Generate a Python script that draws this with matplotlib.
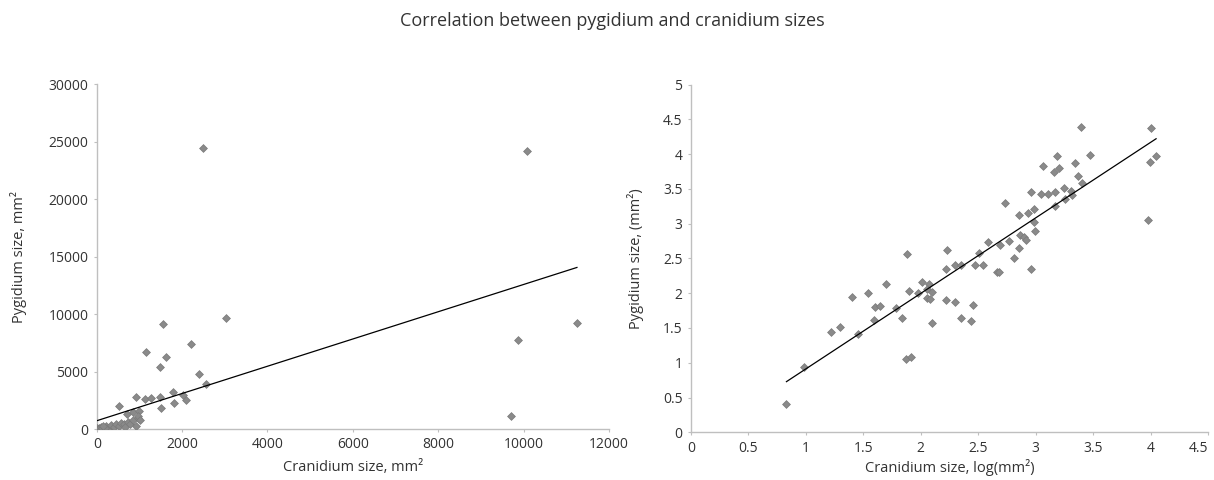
import numpy as np
import matplotlib
matplotlib.use("Agg")
import matplotlib.pyplot as plt

plt.rcParams['font.family'] = ['Open Sans', 'DejaVu Sans']

# Left panel: raw sizes (mm^2)
crani_raw = [0, 47, 109, 164, 226, 281, 343, 405, 460, 515, 562, 632, 671, 734, 788,
             851, 929, 968, 20, 60, 90, 130, 200, 150, 530, 710, 840, 980, 970, 1010,
             910, 1120, 1280, 1490, 1500, 1810, 2080, 2030, 1780, 2570, 2400, 1480, 1630,
             2200, 1160, 1550, 3020, 2480, 9700, 9880, 11250, 10080]
pygi_raw = [60, 113, 174, 60, 235, 87, 320, 174, 435, 261, 522, 406, 203, 638, 435,
            783, 232, 928, 15, 30, 10, 120, 80, 250, 2030, 1340, 1510, 1600, 1130, 810,
            2790, 2620, 2700, 2790, 1830, 2270, 2560, 2940, 3200, 3920, 4770, 5400, 6300,
            7380, 6700, 9150, 9680, 24500, 1100, 7720, 9200, 24200]
trend_raw = (1.186, 730)   # slope, intercept of the drawn trendline

# Right panel: log sizes
crani_log = [0.832, 0.986, 1.223, 1.299, 1.40, 1.455, 1.545, 1.591, 1.606, 1.649, 1.696,
             1.783, 1.838, 1.884, 1.901, 1.87, 1.913, 1.977, 2.01, 2.07, 2.052, 2.052,
             2.081, 2.099, 2.096, 2.229, 2.223, 2.217, 2.30, 2.354, 2.30, 2.354, 2.438,
             2.455, 2.475, 2.504, 2.545, 2.586, 2.661, 2.68, 2.693, 2.730, 2.768, 2.81,
             2.857, 2.857, 2.863, 2.899, 2.913, 2.933, 2.962, 2.962, 2.986, 2.988, 2.997,
             3.049, 3.064, 3.104, 3.159, 3.171, 3.168, 3.186, 3.206, 3.243, 3.255, 3.307,
             3.313, 3.339, 3.368, 3.391, 3.406, 3.470, 4.0, 3.99, 4.046, 3.977]
pygi_log = [0.40, 0.94, 1.44, 1.51, 1.95, 1.42, 2.00, 1.61, 1.80, 1.82, 2.13,
            1.78, 1.65, 2.57, 2.03, 1.06, 1.08, 2.00, 2.155, 2.13, 2.06, 1.925,
            1.92, 2.01, 1.57, 2.615, 2.35, 1.90, 2.41, 2.41, 1.88, 1.64, 1.60,
            1.825, 2.40, 2.58, 2.40, 2.73, 2.30, 2.30, 2.69, 3.30, 2.75, 2.505,
            3.12, 2.65, 2.835, 2.81, 2.77, 3.16, 3.45, 2.35, 3.21, 3.03, 2.89,
            3.42, 3.83, 3.43, 3.74, 3.26, 3.45, 3.97, 3.80, 3.51, 3.36, 3.47,
            3.405, 3.865, 3.68, 4.39, 3.59, 3.985, 4.38, 3.89, 3.97, 3.05]
trend_log = (1.0866, -0.176)

txt = '#333333'
spine = '#bfbfbf'
pt_face = '#8a8a8a'
pt_edge = '#7a7a7a'

fig = plt.figure(figsize=[12.14, 4.8], dpi=100)
fig.text(0.504, 0.956, 'Correlation between pygidium and cranidium sizes',
         ha='center', va='center', fontsize=13, color=txt)

ax1 = fig.add_axes([0.0797, 0.106, 0.4219, 0.718])
ax2 = fig.add_axes([0.569, 0.0994, 0.4263, 0.7245])

for ax, x, y, tr in [(ax1, crani_raw, pygi_raw, trend_raw),
                     (ax2, crani_log, pygi_log, trend_log)]:
    ax.scatter(x, y, marker='D', s=16, color=pt_face, edgecolors=pt_edge,
               linewidths=0.5, zorder=3)
    xl = np.array([min(x), max(x)])
    ax.plot(xl, tr[0]*xl + tr[1], color='black', linewidth=0.9, zorder=4)
    for s in ['top', 'right']:
        ax.spines[s].set_visible(False)
    for s in ['left', 'bottom']:
        ax.spines[s].set_color(spine)
        ax.spines[s].set_linewidth(1.0)
    ax.tick_params(axis='both', colors=spine, labelcolor=txt, labelsize=10,
                   length=2.5, width=0.8)

ax1.set_xlim(0, 12000)
ax1.set_ylim(0, 30000)
ax1.set_xticks(np.arange(0, 12001, 2000))
ax1.set_yticks(np.arange(0, 30001, 5000))
ax1.set_xlabel('Cranidium size, mm²', fontsize=10.5, color=txt, va='center')
ax1.set_ylabel('Pygidium size, mm²', fontsize=10.5, color=txt, va='center')
ax1.xaxis.set_label_coords(0.5, -0.11)
ax1.yaxis.set_label_coords(-0.152, 0.5)

ax2.set_xlim(0, 4.5)
ax2.set_ylim(0, 5)
ax2.set_xticks(np.arange(0, 4.51, 0.5))
ax2.set_yticks(np.arange(0, 5.01, 0.5))
ax2.set_xticklabels(['0', '0.5', '1', '1.5', '2', '2.5', '3', '3.5', '4', '4.5'])
ax2.set_yticklabels(['0', '0.5', '1', '1.5', '2', '2.5', '3', '3.5', '4', '4.5', '5'])
ax2.get_xticklabels()[-1].set_horizontalalignment('right')
ax2.set_xlabel('Cranidium size, log(mm²)', fontsize=10.5, color=txt, va='center')
ax2.set_ylabel('Pygidium size, (mm²)', fontsize=10.5, color=txt, va='center')
ax2.xaxis.set_label_coords(0.5, -0.1)
ax2.yaxis.set_label_coords(-0.106, 0.5)

fig.savefig('out.png', dpi=100)
